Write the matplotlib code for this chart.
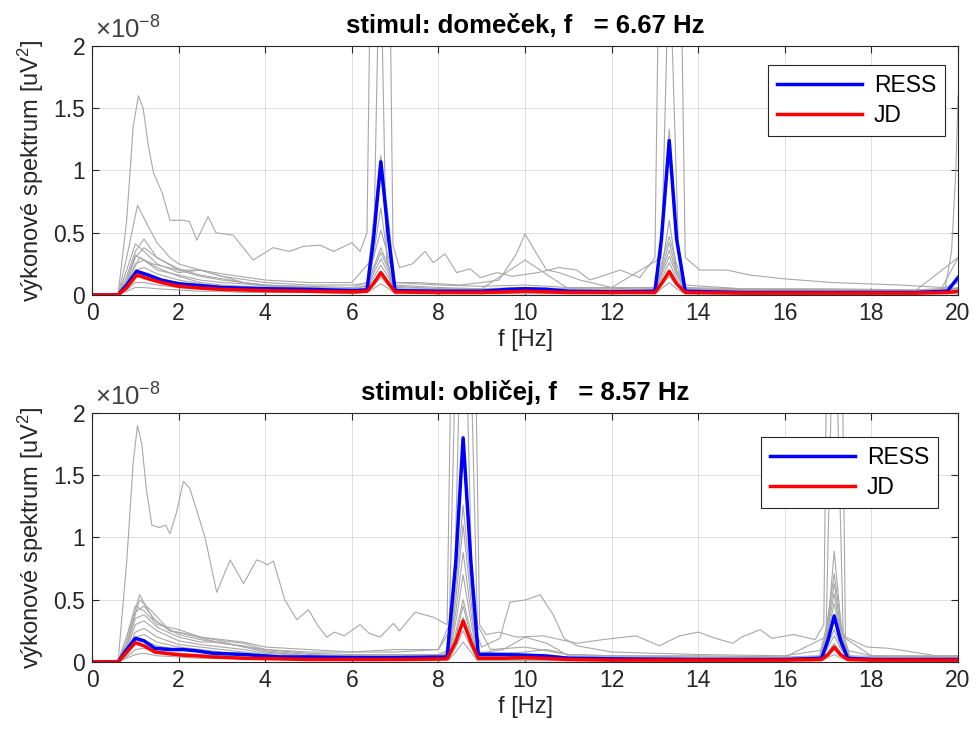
import matplotlib
matplotlib.use('Agg')
import matplotlib.pyplot as plt
import numpy as np

plt.rcParams['font.family'] = ['Liberation Sans', 'DejaVu Sans']
plt.rcParams['mathtext.fontset'] = 'custom'
plt.rcParams['mathtext.rm'] = 'Liberation Sans'
plt.rcParams['mathtext.it'] = 'Liberation Sans:italic'
plt.rcParams['mathtext.bf'] = 'Liberation Sans:bold'

SCALE = 1e-8
AXC = '#262626'
GRAY = '#a8a8a8'

# ---- stimul: domecek (f = 6.67 Hz), values in units of 1e-8 ----
dom_f = [0, 0.6, 0.8, 1.0, 1.2, 1.5, 2.0, 2.5, 3.0, 3.5, 4.0, 5.0, 6.0, 6.35, 6.5, 6.67,
         6.85, 7.0, 8.0, 9.0, 10.0, 11.0, 12.0, 13.0, 13.15, 13.33, 13.5, 13.7, 15.0,
         17.0, 19.0, 19.6, 20.0]
dom_channels = [
    [0, 0, 0.15, 0.35, 0.45, 0.3, 0.2, 0.15, 0.12, 0.1, 0.08, 0.07, 0.06, 0.1, 0.6, 1.12, 0.6, 0.08, 0.06, 0.05, 0.06, 0.05, 0.05, 0.06, 0.5, 1.33, 0.5, 0.06, 0.05, 0.04, 0.04, 0.05, 0.1],
    [0, 0, 0.2, 0.41, 0.35, 0.25, 0.18, 0.2, 0.15, 0.1, 0.08, 0.06, 0.05, 0.08, 0.3, 0.52, 0.3, 0.07, 0.05, 0.04, 0.05, 0.04, 0.04, 0.05, 0.25, 0.47, 0.25, 0.05, 0.04, 0.03, 0.03, 0.04, 0.3],
    [0, 0, 0.1, 0.3, 0.38, 0.3, 0.21, 0.16, 0.13, 0.1, 0.07, 0.06, 0.05, 0.07, 0.22, 0.38, 0.22, 0.06, 0.05, 0.05, 0.28, 0.05, 0.04, 0.05, 0.2, 0.42, 0.2, 0.05, 0.04, 0.04, 0.03, 0.04, 0.06],
    [0, 0, 0.12, 0.32, 0.28, 0.2, 0.16, 0.12, 0.1, 0.09, 0.07, 0.05, 0.04, 0.06, 0.2, 0.34, 0.2, 0.05, 0.04, 0.04, 0.04, 0.04, 0.03, 0.04, 0.18, 0.36, 0.18, 0.04, 0.03, 0.03, 0.03, 0.03, 0.05],
    [0, 0, 0.08, 0.25, 0.28, 0.22, 0.15, 0.1, 0.08, 0.07, 0.06, 0.05, 0.04, 0.05, 0.17, 0.29, 0.17, 0.04, 0.04, 0.03, 0.04, 0.03, 0.03, 0.04, 0.16, 0.31, 0.16, 0.04, 0.03, 0.02, 0.02, 0.03, 0.04],
    [0, 0, 0.06, 0.2, 0.22, 0.17, 0.12, 0.09, 0.07, 0.06, 0.05, 0.04, 0.03, 0.04, 0.14, 0.24, 0.14, 0.03, 0.03, 0.03, 0.03, 0.03, 0.02, 0.03, 0.13, 0.26, 0.13, 0.03, 0.02, 0.02, 0.02, 0.02, 0.03],
    [0, 0, 0.05, 0.14, 0.16, 0.13, 0.1, 0.08, 0.06, 0.05, 0.04, 0.03, 0.03, 0.03, 0.11, 0.19, 0.11, 0.03, 0.02, 0.02, 0.02, 0.02, 0.02, 0.02, 0.1, 0.2, 0.1, 0.02, 0.02, 0.02, 0.02, 0.02, 0.02],
    [0, 0, 0.04, 0.1, 0.1, 0.08, 0.06, 0.05, 0.04, 0.04, 0.03, 0.02, 0.02, 0.02, 0.08, 0.14, 0.08, 0.02, 0.02, 0.02, 0.02, 0.02, 0.01, 0.02, 0.08, 0.15, 0.08, 0.02, 0.01, 0.01, 0.01, 0.02, 0.02],
    [0, 0, 0.03, 0.06, 0.06, 0.05, 0.04, 0.03, 0.03, 0.02, 0.02, 0.02, 0.01, 0.02, 0.05, 0.09, 0.05, 0.01, 0.01, 0.01, 0.01, 0.01, 0.01, 0.01, 0.05, 0.1, 0.05, 0.01, 0.01, 0.01, 0.01, 0.01, 0.01],
]
# strongest channel
dom_big_f = [0, 0.6, 0.8, 0.95, 1.07, 1.18, 1.3, 1.42, 1.62, 1.8, 2.1, 2.25, 2.42, 2.68, 2.86,
             3.26, 3.72, 4.18, 4.56, 4.87, 5.27, 5.58, 6.0, 6.19, 6.35, 6.67, 6.95, 7.1, 7.4,
             7.69, 7.88, 8.15, 8.42, 8.73, 8.97, 9.35, 9.7, 10.3, 10.78, 11.2, 11.5, 12.2,
             12.65, 13.0, 13.33, 13.7, 14.04, 14.66, 15.2, 15.97, 17.1, 18.66, 19.66, 20.0]
dom_big_v = [0, 0, 0.6, 1.35, 1.6, 1.5, 1.2, 0.98, 0.82, 0.6, 0.6, 0.59, 0.44, 0.63, 0.5,
             0.48, 0.28, 0.38, 0.35, 0.39, 0.4, 0.35, 0.42, 0.35, 0.5, 9.0, 0.4, 0.22, 0.25,
             0.35, 0.26, 0.33, 0.18, 0.21, 0.14, 0.18, 0.15, 0.18, 0.22, 0.2, 0.12, 0.2,
             0.14, 0.3, 9.0, 0.3, 0.2, 0.2, 0.16, 0.13, 0.1, 0.08, 0.06, 0.05]
dom_ch2_f = [0, 0.6, 0.8, 1.05, 1.3, 1.5, 1.8, 2.0, 2.5, 3.0, 4.0, 5.0, 6.0, 6.5, 6.65, 6.8,
             6.95, 8.0, 9.0, 10.0, 11.0, 12.0, 13.15, 13.33, 13.55, 13.7, 15.0, 17.0, 19.0,
             19.7, 19.85, 19.95, 20.0]
dom_ch2_v = [0, 0, 0.3, 0.72, 0.55, 0.42, 0.3, 0.25, 0.2, 0.17, 0.12, 0.1, 0.1, 0.3, 3.0, 0.3,
             0.1, 0.08, 0.07, 0.08, 0.06, 0.06, 0.3, 2.8, 0.3, 0.08, 0.05, 0.05, 0.04,
             0.05, 0.35, 1.0, 1.6]
dom_ch3_f = [0, 0.6, 0.8, 1.1, 1.4, 2.0, 2.5, 3.0, 4.0, 5.0, 6.0, 6.4, 6.67, 6.9, 7.5, 8.5,
             9.0, 9.4, 9.8, 10.0, 10.27, 10.5, 10.78, 11.27, 12.0, 13.0, 13.15, 13.33, 13.5,
             13.7, 15.0, 17.0, 19.0, 20.0]
dom_ch3_v = [0, 0, 0.1, 0.3, 0.25, 0.2, 0.2, 0.15, 0.1, 0.08, 0.08, 0.1, 0.7, 0.1, 0.1, 0.08,
             0.1, 0.12, 0.33, 0.49, 0.33, 0.2, 0.18, 0.12, 0.06, 0.06, 0.2, 0.6, 0.2,
             0.05, 0.04, 0.03, 0.03, 0.3]
dom_mean_f = [0, 0.6, 0.8, 1.03, 1.3, 1.6, 2.0, 2.5, 3.0, 4.0, 5.0, 6.0, 6.35, 6.5, 6.67,
              6.85, 7.0, 8.0, 9.0, 9.6, 10.0, 10.5, 11.0, 12.0, 13.0, 13.15, 13.33, 13.5,
              13.7, 15.0, 17.0, 19.0, 19.75, 20.0]
dom_ress = [0, 0, 0.08, 0.19, 0.16, 0.12, 0.09, 0.075, 0.06, 0.05, 0.045, 0.035, 0.04, 0.45,
            1.07, 0.45, 0.035, 0.03, 0.03, 0.045, 0.05, 0.045, 0.03, 0.025, 0.03, 0.45,
            1.24, 0.45, 0.03, 0.02, 0.02, 0.02, 0.03, 0.14]
dom_jd = [0, 0, 0.06, 0.16, 0.13, 0.1, 0.07, 0.055, 0.045, 0.035, 0.03, 0.025, 0.03, 0.09,
          0.18, 0.09, 0.025, 0.02, 0.02, 0.025, 0.03, 0.025, 0.02, 0.02, 0.02, 0.09, 0.19,
          0.09, 0.02, 0.015, 0.015, 0.015, 0.02, 0.03]

# ---- stimul: oblicej (f = 8.57 Hz) ----
obl_f = [0, 0.6, 0.8, 1.0, 1.2, 1.5, 2.0, 2.5, 3.0, 3.5, 4.0, 5.0, 6.0, 7.0, 8.0, 8.25, 8.4,
         8.57, 8.75, 8.9, 9.5, 10.0, 10.5, 11.0, 12.0, 14.0, 16.0, 16.8, 16.97, 17.14, 17.3,
         17.5, 18.5, 20.0]
obl_channels = [
    [0, 0, 0.2, 0.45, 0.41, 0.3, 0.26, 0.2, 0.17, 0.15, 0.1, 0.07, 0.06, 0.06, 0.06, 0.1, 0.6, 1.26, 0.6, 0.08, 0.07, 0.08, 0.1, 0.06, 0.05, 0.04, 0.04, 0.05, 0.3, 0.71, 0.3, 0.05, 0.04, 0.04],
    [0, 0, 0.15, 0.4, 0.45, 0.32, 0.22, 0.18, 0.15, 0.13, 0.09, 0.06, 0.05, 0.05, 0.05, 0.08, 0.5, 1.1, 0.5, 0.07, 0.1, 0.2, 0.15, 0.05, 0.04, 0.03, 0.03, 0.04, 0.25, 0.63, 0.25, 0.04, 0.03, 0.03],
    [0, 0, 0.12, 0.35, 0.38, 0.28, 0.2, 0.16, 0.16, 0.12, 0.08, 0.05, 0.05, 0.04, 0.05, 0.07, 0.4, 0.88, 0.4, 0.06, 0.06, 0.06, 0.06, 0.04, 0.04, 0.03, 0.03, 0.04, 0.22, 0.55, 0.22, 0.03, 0.03, 0.03],
    [0, 0, 0.1, 0.3, 0.33, 0.25, 0.17, 0.14, 0.12, 0.1, 0.07, 0.05, 0.04, 0.04, 0.04, 0.06, 0.32, 0.7, 0.32, 0.05, 0.05, 0.06, 0.05, 0.04, 0.03, 0.03, 0.03, 0.03, 0.2, 0.47, 0.2, 0.03, 0.03, 0.03],
    [0, 0, 0.08, 0.24, 0.27, 0.2, 0.14, 0.12, 0.1, 0.08, 0.06, 0.04, 0.04, 0.03, 0.04, 0.05, 0.24, 0.5, 0.24, 0.04, 0.04, 0.05, 0.04, 0.03, 0.03, 0.02, 0.02, 0.03, 0.12, 0.26, 0.12, 0.03, 0.02, 0.02],
    [0, 0, 0.06, 0.2, 0.22, 0.16, 0.12, 0.1, 0.08, 0.07, 0.05, 0.04, 0.03, 0.03, 0.03, 0.04, 0.2, 0.45, 0.2, 0.03, 0.03, 0.04, 0.04, 0.03, 0.02, 0.02, 0.02, 0.02, 0.1, 0.21, 0.1, 0.02, 0.02, 0.02],
    [0, 0, 0.05, 0.15, 0.17, 0.13, 0.1, 0.08, 0.07, 0.06, 0.04, 0.03, 0.03, 0.02, 0.03, 0.03, 0.16, 0.36, 0.16, 0.03, 0.03, 0.03, 0.03, 0.02, 0.02, 0.02, 0.02, 0.02, 0.07, 0.15, 0.07, 0.02, 0.02, 0.02],
    [0, 0, 0.04, 0.1, 0.11, 0.09, 0.07, 0.06, 0.05, 0.04, 0.03, 0.02, 0.02, 0.02, 0.02, 0.03, 0.12, 0.25, 0.12, 0.02, 0.02, 0.02, 0.02, 0.02, 0.01, 0.01, 0.01, 0.02, 0.05, 0.1, 0.05, 0.02, 0.01, 0.01],
    [0, 0, 0.03, 0.06, 0.07, 0.05, 0.04, 0.03, 0.03, 0.03, 0.02, 0.02, 0.01, 0.01, 0.01, 0.02, 0.08, 0.16, 0.08, 0.01, 0.01, 0.01, 0.01, 0.01, 0.01, 0.01, 0.01, 0.01, 0.03, 0.06, 0.03, 0.01, 0.01, 0.01],
]
obl_big_f = [0, 0.6, 0.8, 0.95, 1.05, 1.15, 1.25, 1.38, 1.55, 1.7, 1.8, 1.95, 2.11, 2.25, 2.38,
             2.61, 2.88, 3.19, 3.5, 3.8, 3.95, 4.05, 4.19, 4.45, 4.73, 5.0, 5.2, 5.42, 5.6,
             5.82, 6.19, 6.4, 6.65, 6.96, 7.1, 7.46, 7.88, 8.2, 8.57, 8.95, 9.1, 9.4, 9.8,
             10.42, 11.2, 11.8, 12.57, 13.1, 13.57, 14.0, 14.4, 14.8, 15.0, 15.43, 15.7,
             16.2, 16.7, 16.9, 17.14, 17.4, 17.9, 18.4, 19.5, 20.0]
obl_big_v = [0, 0, 0.8, 1.6, 1.9, 1.75, 1.4, 1.1, 1.08, 1.1, 1.03, 1.2, 1.45, 1.4, 1.26,
             1.0, 0.56, 0.82, 0.63, 0.82, 0.8, 0.78, 0.81, 0.5, 0.34, 0.42, 0.3, 0.2, 0.24,
             0.21, 0.3, 0.23, 0.2, 0.31, 0.25, 0.4, 0.36, 0.3, 9.0, 0.3, 0.22, 0.24, 0.2,
             0.21, 0.15, 0.18, 0.21, 0.13, 0.21, 0.24, 0.19, 0.15, 0.2, 0.26, 0.19,
             0.22, 0.18, 0.3, 8.0, 0.2, 0.12, 0.11, 0.05, 0.05]
obl_ch2_f = [0, 0.6, 0.8, 1.1, 1.4, 1.8, 2.2, 3.0, 4.0, 5.0, 6.0, 7.0, 8.0, 8.35, 8.57, 8.8,
             9.0, 9.42, 9.65, 10.03, 10.35, 10.65, 10.9, 11.2, 12.0, 14.0, 16.0, 16.95, 17.14,
             17.35, 18.0, 20.0]
obl_ch2_v = [0, 0, 0.2, 0.54, 0.35, 0.25, 0.22, 0.15, 0.1, 0.08, 0.08, 0.1, 0.1, 0.3, 3.5, 0.3,
             0.12, 0.19, 0.48, 0.5, 0.54, 0.38, 0.19, 0.13, 0.08, 0.06, 0.05, 0.1, 0.89, 0.1,
             0.05, 0.04]
obl_ch3_f = [0, 0.6, 0.8, 1.1, 1.4, 1.8, 2.0, 2.5, 3.0, 3.5, 4.0, 5.0, 6.0, 7.0, 8.0, 8.25,
             8.57, 8.9, 9.2, 10.0, 11.0, 12.0, 14.0, 16.0, 16.95, 17.14, 17.35, 18.0, 20.0]
obl_ch3_v = [0, 0, 0.15, 0.5, 0.4, 0.25, 0.24, 0.2, 0.18, 0.16, 0.12, 0.1, 0.08, 0.08, 0.1, 0.3,
             5.0, 0.3, 0.1, 0.12, 0.06, 0.05, 0.05, 0.04, 0.2, 3.2, 0.2, 0.05, 0.05]
obl_mean_f = [0, 0.6, 0.8, 1.0, 1.2, 1.45, 1.8, 2.1, 2.4, 2.8, 3.5, 4.35, 5.0, 6.0, 7.0, 8.2,
              8.4, 8.57, 8.75, 8.92, 9.5, 10.0, 10.4, 11.0, 12.0, 14.0, 16.0, 16.85, 17.0,
              17.14, 17.28, 17.45, 18.0, 20.0]
obl_ress = [0, 0, 0.1, 0.19, 0.17, 0.11, 0.1, 0.1, 0.09, 0.07, 0.06, 0.04, 0.04, 0.035, 0.035,
            0.04, 0.8, 1.8, 0.8, 0.06, 0.06, 0.055, 0.05, 0.03, 0.025, 0.02, 0.02, 0.03, 0.18,
            0.37, 0.18, 0.03, 0.02, 0.02]
obl_jd = [0, 0, 0.08, 0.155, 0.13, 0.08, 0.065, 0.055, 0.05, 0.04, 0.03, 0.025, 0.02, 0.02,
          0.02, 0.025, 0.16, 0.33, 0.16, 0.03, 0.03, 0.035, 0.03, 0.02, 0.015, 0.015, 0.015,
          0.02, 0.06, 0.12, 0.06, 0.02, 0.015, 0.015]

xticks = np.arange(0, 21, 2)
yticks = [0, 0.5, 1, 1.5, 2]
ytick_labels = ['0', '0.5', '1', '1.5', '2']

fig = plt.figure(figsize=(9.77, 7.38), dpi=100)
ax1 = fig.add_axes([0.0942, 0.6003, 0.8864, 0.3374])
ax2 = fig.add_axes([0.0942, 0.1030, 0.8864, 0.3374])

panels = [
    (ax1, 'stimul: domeček, f   = 6.67 Hz', dom_f, dom_channels,
     [(dom_big_f, dom_big_v), (dom_ch2_f, dom_ch2_v), (dom_ch3_f, dom_ch3_v)],
     dom_mean_f, dom_ress, dom_jd, (0.985, 0.925)),
    (ax2, 'stimul: obličej, f   = 8.57 Hz', obl_f, obl_channels,
     [(obl_big_f, obl_big_v), (obl_ch2_f, obl_ch2_v), (obl_ch3_f, obl_ch3_v)],
     obl_mean_f, obl_ress, obl_jd, (0.977, 0.905)),
]

for ax, title, f, chans, extra, mf, ress, jd, leg_pos in panels:
    for ch in chans:
        ax.plot(f, np.array(ch) * SCALE, color=GRAY, lw=0.8)
    for ef, ev in extra:
        ax.plot(ef, np.array(ev) * SCALE, color=GRAY, lw=0.8)
    l1, = ax.plot(mf, np.array(ress) * SCALE, color='#0000ff', lw=2.5, label='RESS')
    l2, = ax.plot(mf, np.array(jd) * SCALE, color='#ff0000', lw=2.5, label='JD')

    ax.set_xlim(0, 20)
    ax.set_ylim(0, 2 * SCALE)
    ax.set_xticks(xticks)
    ax.set_yticks(np.array(yticks) * SCALE)
    ax.set_yticklabels(ytick_labels)
    ax.grid(True, color=AXC, alpha=0.15, lw=0.7)
    ax.tick_params(direction='in', length=5, width=0.8, colors=AXC, labelsize=16.5,
                   top=True, right=True, pad=5)
    for s in ax.spines.values():
        s.set_color(AXC)
        s.set_linewidth(0.8)
    ax.set_title(title, fontsize=18.5, fontweight='bold', pad=9, color='black')
    ax.set_xlabel('f [Hz]', fontsize=17, color=AXC, labelpad=3)
    ax.set_ylabel('výkonové spektrum [uV$^2$]', fontsize=17, color=AXC, labelpad=5)
    ax.text(0.003, 1.008, r'$\times10^{-8}$', transform=ax.transAxes, ha='left', va='bottom',
            fontsize=18.5, color='#404040')

    leg = ax.legend(handles=[l1, l2], loc='upper right', bbox_to_anchor=leg_pos,
                    fontsize=16.5, handlelength=3.7, fancybox=False, framealpha=1,
                    edgecolor=AXC, borderpad=0.4, labelspacing=0.3, handletextpad=0.5,
                    borderaxespad=0)
    leg.get_frame().set_linewidth(0.8)

fig.savefig('out.png', dpi=100)
